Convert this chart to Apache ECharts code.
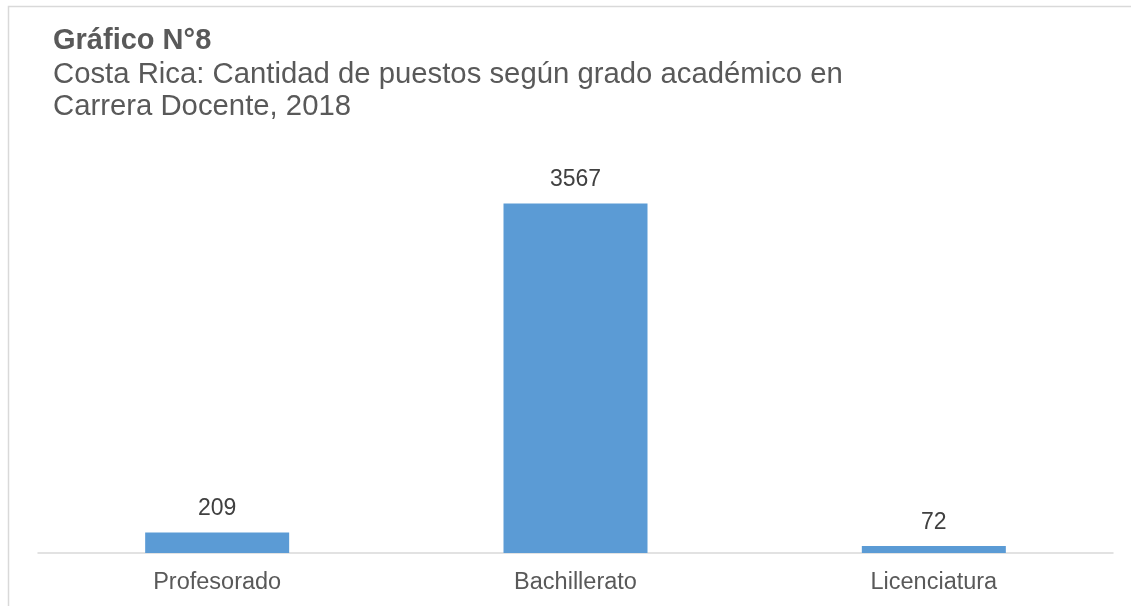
<!DOCTYPE html>
<html>
<head>
<meta charset="utf-8">
<script src="https://cdn.jsdelivr.net/npm/echarts@6/dist/echarts.min.js"></script>
<style>
html,body{margin:0;padding:0;background:#fff;}
#chart{width:1131px;height:606px;}
</style>
</head>
<body>
<div id="chart"></div>
<script>
const titleText = 'Gráfico N°8';
const subtitleText = 'Costa Rica: Cantidad de puestos según grado académico en\nCarrera Docente, 2018';
const categories = ['Profesorado', 'Bachillerato', 'Licenciatura'];
const values = [209, 3567, 72];

const chart = echarts.init(document.getElementById('chart'), null, {renderer: 'canvas'});
chart.setOption({
  backgroundColor: '#ffffff',
  animation: false,
  graphic: [{
    type: 'rect',
    shape: {x: 8.5, y: 6.5, width: 1300, height: 800},
    style: {fill: 'none', stroke: '#d9d9d9', lineWidth: 1.5},
    silent: true
  }],
  title: {
    text: titleText,
    subtext: subtitleText,
    left: 53,
    top: 26.5,
    padding: 0,
    itemGap: 3,
    textStyle: {fontFamily: 'Liberation Sans, Arial, sans-serif', fontSize: 29, fontWeight: 'bold', color: '#595959', lineHeight: 29},
    subtextStyle: {fontFamily: 'Liberation Sans, Arial, sans-serif', fontSize: 29.3, color: '#595959', lineHeight: 32.5}
  },
  grid: {left: 38, right: 18, top: 161, bottom: 53, containLabel: false},
  xAxis: {
    type: 'category',
    data: categories,
    axisLine: {show: true, lineStyle: {color: '#d9d9d9', width: 1.5}},
    axisTick: {show: false},
    axisLabel: {fontFamily: 'Liberation Sans, Arial, sans-serif', fontSize: 23.5, color: '#595959', margin: 18, lineHeight: 24}
  },
  yAxis: {
    type: 'value',
    min: 0,
    max: 4000,
    show: false,
    splitLine: {show: false}
  },
  series: [{
    type: 'bar',
    data: values,
    barWidth: 144,
    itemStyle: {color: '#5b9bd5'},
    label: {
      show: true,
      position: 'top',
      distance: 12,
      fontFamily: 'Liberation Sans, Arial, sans-serif',
      fontSize: 23,
      lineHeight: 23,
      color: '#404040'
    }
  }]
});
</script>
</body>
</html>
